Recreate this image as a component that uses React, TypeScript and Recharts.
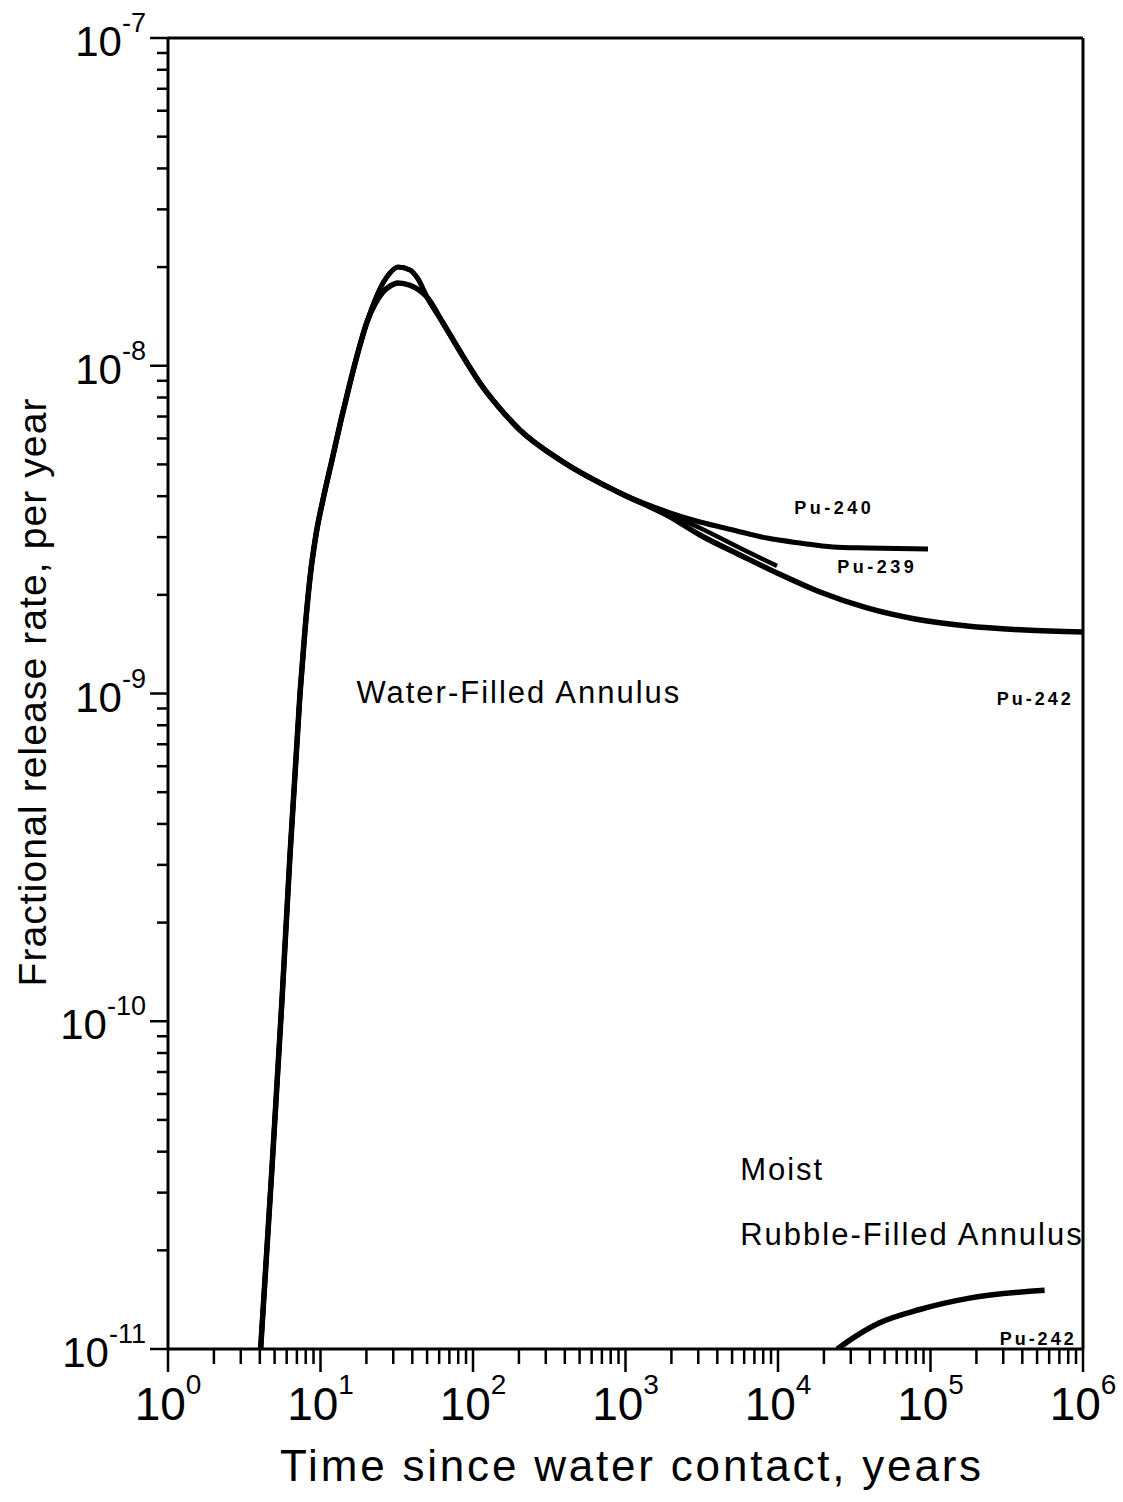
import { LineChart, Line, XAxis, YAxis, ReferenceLine, ReferenceDot, Label } from "recharts";

// water-filled annulus: steep rise shared by all three isotopes
const riseTime = [4.05, 4.81, 5.59, 6.31, 7.34, 7.91, 8.53, 9.34, 10.38, 11.9, 13.63, 15.61, 17.62, 20.18];
const riseRate = [1e-11, 3.59e-11, 1.16e-10, 3.22e-10, 1.0e-9, 1.56e-9, 2.25e-9, 3.05e-9, 3.9e-9, 5.16e-9, 6.83e-9, 8.86e-9, 1.1e-8, 1.36e-8];

// peak: Pu-239/240 run a little higher than Pu-242
const outerPeakTime = [22.78, 25.7, 28.56, 32.2, 38.6, 43.6];
const outerPeakRate = [1.587e-8, 1.789e-8, 1.919e-8, 2.0e-8, 1.96e-8, 1.84e-8];
const innerPeakTime = [22.78, 25.7, 28.56, 32.2, 38.6];
const innerPeakRate = [1.543e-8, 1.68e-8, 1.75e-8, 1.79e-8, 1.76e-8];

// shared decline
const fallTime = [49.9, 63.6, 76.2, 91.4, 111, 143.6, 203, 372, 920];
const fallRate = [1.62e-8, 1.35e-8, 1.173e-8, 1.02e-8, 8.86e-9, 7.59e-9, 6.37e-9, 5.16e-9, 4.09e-9];

// the three tails after they split
const pu240TailTime = [1958, 3080, 5070, 8470, 13940, 22940, 38340, 96300];
const pu240TailRate = [3.56e-9, 3.336e-9, 3.155e-9, 2.98e-9, 2.878e-9, 2.8e-9, 2.78e-9, 2.76e-9];
const pu239TailTime = [1958, 3080, 5633, 9849];
const pu239TailRate = [3.51e-9, 3.2e-9, 2.78e-9, 2.45e-9];
const pu242TailTime = [1958, 3080, 5633, 9849, 18860, 38340, 79140, 173500, 416500, 1000000];
const pu242TailRate = [3.46e-9, 3.045e-9, 2.647e-9, 2.332e-9, 2.04e-9, 1.824e-9, 1.688e-9, 1.607e-9, 1.562e-9, 1.54e-9];

// moist rubble-filled annulus, Pu-242
const rubbleTime = [24500, 33000, 46000, 85000, 180000, 560000];
const rubbleRate = [1e-11, 1.1e-11, 1.2e-11, 1.32e-11, 1.43e-11, 1.51e-11];

const xDecades = [1, 10, 100, 1000, 10000, 100000, 1000000];
const yDecades = [1e-11, 1e-10, 1e-9, 1e-8, 1e-7];
const minorSteps = [2, 3, 4, 5, 6, 7, 8, 9];

const toPoints = (t: number[], r: number[]) => t.map((v, i) => ({ t: v, r: r[i] }));
const withMinors = (decades: number[]) => {
  const out: number[] = [];
  decades.forEach((d, i) => {
    out.push(d);
    if (i < decades.length - 1) minorSteps.forEach((m) => out.push(d * m));
  });
  return out;
};

const rise = toPoints(riseTime, riseRate);
const fall = toPoints(fallTime, fallRate);
const pu240 = [...rise, ...toPoints(outerPeakTime, outerPeakRate), ...fall, ...toPoints(pu240TailTime, pu240TailRate)];
const pu239 = [...rise, ...toPoints(outerPeakTime, outerPeakRate), ...fall, ...toPoints(pu239TailTime, pu239TailRate)];
const pu242 = [...rise, ...toPoints(innerPeakTime, innerPeakRate), ...fall, ...toPoints(pu242TailTime, pu242TailRate)];
const rubble = toPoints(rubbleTime, rubbleRate);

const FONT = "'Liberation Sans', Arial, Helvetica, sans-serif";

const isDecade = (v: number) => {
  const e = Math.round(Math.log10(v));
  return Math.abs(v / Math.pow(10, e) - 1) < 1e-6;
};

const XTick = (props: any) => {
  const { x, y, payload } = props;
  const v = payload.value;
  const major = isDecade(v);
  const exp = Math.round(Math.log10(v));
  return (
    <g>
      <line x1={x} x2={x} y1={y} y2={y + (major ? 23 : 15)} stroke="#000" strokeWidth={2.5} />
      {major && (
        <text x={x} y={y + 71} textAnchor="middle" fontFamily={FONT} fontSize={46} fill="#000">
          <tspan>10</tspan>
          <tspan dy={-26} fontSize={28}>{exp}</tspan>
        </text>
      )}
    </g>
  );
};

const YTick = (props: any) => {
  const { x, y, payload } = props;
  const v = payload.value;
  const major = isDecade(v);
  const exp = Math.round(Math.log10(v));
  return (
    <g>
      <line x1={x} x2={x - (major ? 18 : 11)} y1={y} y2={y} stroke="#000" strokeWidth={2.5} />
      {major && (
        <text x={x - 22} y={y + 18} textAnchor="end" fontFamily={FONT} fontSize={42} fill="#000">
          <tspan>10</tspan>
          <tspan dy={-24} fontSize={27}>{exp}</tspan>
        </text>
      )}
    </g>
  );
};

const note = (text: string, size: number, bold: boolean, spacing: number) => (props: any) => {
  const { viewBox } = props;
  return (
    <text x={viewBox.x} y={viewBox.y} fontFamily={FONT} fontSize={size} fontWeight={bold ? 700 : 400} letterSpacing={spacing} fill="#000">
      {text}
    </text>
  );
};

const curve = { type: "monotone" as const, dataKey: "r", stroke: "#000", dot: false, activeDot: false, isAnimationActive: false };

export default function App() {
  return (
    <div style={{ position: "absolute", left: 0, top: 0, width: 1123, height: 1502, background: "#fff" }}>
      <LineChart width={1123} height={1502} margin={{ top: 38, right: 40, bottom: 123, left: 108 }}>
        <XAxis
          dataKey="t"
          type="number"
          scale="log"
          domain={[1, 1000000]}
          allowDataOverflow
          ticks={withMinors(xDecades)}
          interval={0}
          tickSize={0}
          tickMargin={0}
          tickLine={false}
          tick={<XTick />}
          axisLine={{ stroke: "#000", strokeWidth: 3 }}
          height={30}
        >
          <Label
            content={() => (
              <text x={632} y={1481} textAnchor="middle" fontFamily={FONT} fontSize={44} letterSpacing={2.8} fill="#000">
                Time since water contact, years
              </text>
            )}
          />
        </XAxis>
        <YAxis
          dataKey="r"
          type="number"
          scale="log"
          domain={[1e-11, 1e-7]}
          allowDataOverflow
          ticks={withMinors(yDecades)}
          interval={0}
          tickSize={0}
          tickMargin={0}
          tickLine={false}
          tick={<YTick />}
          axisLine={{ stroke: "#000", strokeWidth: 3 }}
          width={60}
        >
          <Label
            content={() => (
              <text x={46} y={692} transform="rotate(-90 46 692)" textAnchor="middle" fontFamily={FONT} fontSize={39} letterSpacing={1.1} fill="#000">
                Fractional release rate, per year
              </text>
            )}
          />
        </YAxis>
        <ReferenceLine y={1e-7} stroke="#000" strokeWidth={3} />
        <ReferenceLine x={1000000} stroke="#000" strokeWidth={3} />

        <Line {...curve} data={pu242} strokeWidth={5.5} />
        <Line {...curve} data={pu239} strokeWidth={4.5} />
        <Line {...curve} data={pu240} strokeWidth={5} />
        <Line {...curve} data={rubble} strokeWidth={5.5} />

        <ReferenceDot x={12800} y={3.53e-9} r={0} stroke="none" fill="none" label={{ content: note("Pu-240", 18, true, 3.5) }} />
        <ReferenceDot x={24500} y={2.33e-9} r={0} stroke="none" fill="none" label={{ content: note("Pu-239", 18, true, 3.5) }} />
        <ReferenceDot x={272000} y={9.22e-10} r={0} stroke="none" fill="none" label={{ content: note("Pu-242", 18, true, 3) }} />
        <ReferenceDot x={284000} y={1.03e-11} r={0} stroke="none" fill="none" label={{ content: note("Pu-242", 18, true, 3) }} />
        <ReferenceDot x={17.2} y={9.35e-10} r={0} stroke="none" fill="none" label={{ content: note("Water-Filled Annulus", 31, false, 2) }} />
        <ReferenceDot x={5650} y={3.28e-11} r={0} stroke="none" fill="none" label={{ content: note("Moist", 31, false, 2) }} />
        <ReferenceDot x={5650} y={2.07e-11} r={0} stroke="none" fill="none" label={{ content: note("Rubble-Filled Annulus", 31, false, 2) }} />
      </LineChart>
    </div>
  );
}
